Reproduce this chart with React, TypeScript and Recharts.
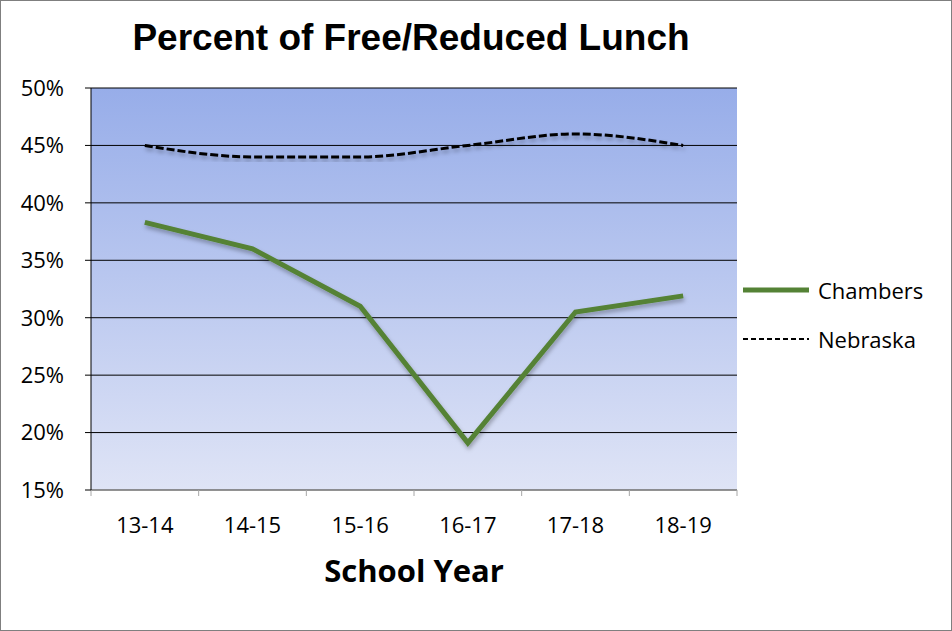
import { LineChart, Line, XAxis, YAxis, CartesianGrid } from 'recharts';

const YEARS = ['13-14', '14-15', '15-16', '16-17', '17-18', '18-19'];
const CHAMBERS = [0.383, 0.36, 0.31, 0.191, 0.305, 0.319];
const NEBRASKA = [0.45, 0.44, 0.44, 0.45, 0.46, 0.45];
const Y_TICKS = [0.15, 0.2, 0.25, 0.3, 0.35, 0.4, 0.45, 0.5];
const BOUNDARY_TICKS = [-0.5, 0.5, 1.5, 2.5, 3.5, 4.5, 5.5];
const LABEL_TICKS = [0, 1, 2, 3, 4, 5];

const data = YEARS.map((year, i) => ({
  i,
  year,
  Chambers: CHAMBERS[i],
  Nebraska: NEBRASKA[i],
}));

const FONT = '"Open Sans", "Noto Sans", sans-serif';

function LegendBox() {
  return (
    <div style={{ fontFamily: FONT, fontSize: 22, color: '#000' }}>
      <div style={{ display: 'flex', alignItems: 'center', height: 30 }}>
        <svg width={68} height={10}>
          <line x1={0} y1={5} x2={66} y2={5} stroke="#548235" strokeWidth={5} />
        </svg>
        <span style={{ marginLeft: 7 }}>Chambers</span>
      </div>
      <div style={{ display: 'flex', alignItems: 'center', height: 30, marginTop: 19 }}>
        <svg width={68} height={10}>
          <line x1={0} y1={5} x2={66} y2={5} stroke="#000" strokeWidth={2} strokeDasharray="5 3" />
        </svg>
        <span style={{ marginLeft: 7 }}>Nebraska</span>
      </div>
    </div>
  );
}

export default function App() {
  return (
    <div
      style={{
        position: 'absolute',
        left: 0,
        top: 0,
        width: 952,
        height: 631,
        background: '#fff',
        border: '1px solid #7f7f7f',
        boxSizing: 'border-box',
      }}
    >
      <div
        style={{
          position: 'absolute',
          left: 0,
          width: 820,
          top: 16,
          textAlign: 'center',
          fontFamily: '"Liberation Sans", Arial, sans-serif',
          fontWeight: 'bold',
          fontSize: 37,
          color: '#000',
        }}
      >
        Percent of Free/Reduced Lunch
      </div>
      <div
        style={{
          position: 'absolute',
          left: 0,
          width: 826,
          top: 548,
          textAlign: 'center',
          fontFamily: FONT,
          fontWeight: 'bold',
          fontSize: 31,
          color: '#000',
        }}
      >
        School Year
      </div>
      <div style={{ position: 'absolute', left: 742, top: 274 }}>
        <LegendBox />
      </div>
      <div style={{ position: 'absolute', left: -1, top: -1 }}>
        <LineChart
          width={952}
          height={631}
          data={data}
          margin={{ top: 88, right: 215, bottom: 60, left: 0 }}
        >
          <defs>
            <linearGradient id="bg" x1="0" y1="0" x2="0" y2="1">
              <stop offset="0%" stopColor="#97ade9" />
              <stop offset="100%" stopColor="#dfe4f6" />
            </linearGradient>
            <filter id="shadow" x="-5%" y="-20%" width="110%" height="140%">
              <feDropShadow dx={1} dy={3} stdDeviation={2} floodColor="#000" floodOpacity={0.3} />
            </filter>
          </defs>
          <CartesianGrid
            xAxisId="bounds"
            vertical={false}
            stroke="#000"
            strokeOpacity={1}
            fill="url(#bg)"
            fillOpacity={1}
          />
          <XAxis
            xAxisId="bounds"
            dataKey="i"
            type="number"
            domain={[-0.5, 5.5]}
            allowDataOverflow
            ticks={BOUNDARY_TICKS}
            tickFormatter={() => ''}
            stroke="#a6a6a6"
            tickSize={6}
            height={8}
          />
          <XAxis
            xAxisId="labels"
            dataKey="i"
            type="number"
            domain={[-0.5, 5.5]}
            allowDataOverflow
            ticks={LABEL_TICKS}
            tickFormatter={(v: number) => YEARS[v]}
            axisLine={false}
            tickLine={false}
            tickMargin={13}
            height={73}
            tick={{ fill: '#000', fontSize: 22, fontFamily: FONT }}
          />
          <YAxis
            domain={[0.15, 0.5]}
            ticks={Y_TICKS}
            tickFormatter={(v: number) => `${Math.round(v * 100)}%`}
            width={91}
            stroke="#000"
            tickSize={6}
            tickMargin={21}
            tick={{ fill: '#000', fontSize: 22, fontFamily: FONT }}
            interval={0}
          />
          <Line
            xAxisId="bounds"
            dataKey="Nebraska"
            type="monotone"
            stroke="#000"
            strokeWidth={3}
            strokeDasharray="8 3"
            dot={false}
            filter="url(#shadow)"
            isAnimationActive={false}
          />
          <Line
            xAxisId="bounds"
            dataKey="Chambers"
            type="linear"
            stroke="#548235"
            strokeWidth={5}
            dot={false}
            filter="url(#shadow)"
            isAnimationActive={false}
          />
        </LineChart>
      </div>
    </div>
  );
}
